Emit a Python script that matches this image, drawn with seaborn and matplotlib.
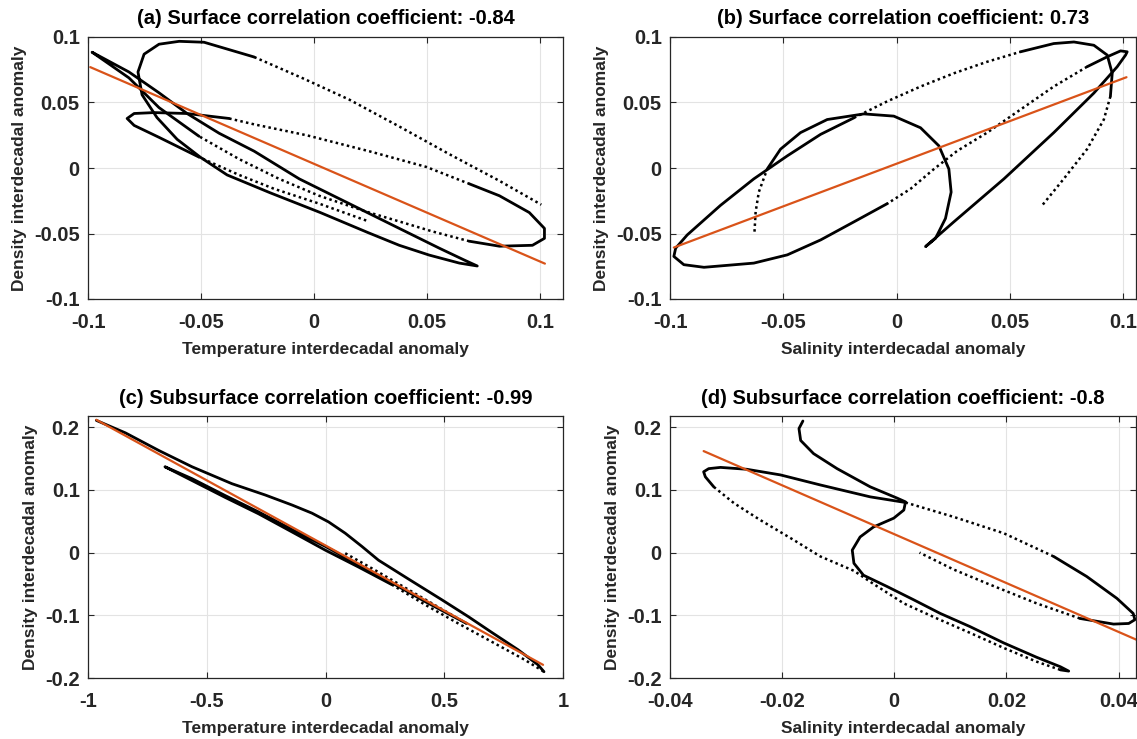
import numpy as np
import pandas as pd
import matplotlib
matplotlib.use("Agg")
import matplotlib.pyplot as plt
import seaborn as sns

# ---------------- data ----------------
# Panel (a): surface, temperature vs density
a_x = [0.0230, 0.0022, -0.0177, -0.0332, -0.0509, -0.0686, -0.0796, -0.0827, -0.0796, -0.0708,
       -0.0562, -0.0376, -0.0265, -0.0031, 0.0243, 0.0496, 0.0686, 0.0819, 0.0951, 0.1018,
       0.1018, 0.0965, 0.0819, 0.0686, 0.0522, 0.0376, 0.0230, 0.0022, -0.0155, -0.0332,
       -0.0509, -0.0686, -0.0819, -0.0907, -0.0982, -0.0819, -0.0686, -0.0562, -0.0420, -0.0265,
       -0.0066, 0.0155, 0.0376, 0.0553, 0.0664, 0.0721, 0.0642, 0.0509, 0.0376, 0.0235,
       0.0027, -0.0195, -0.0385, -0.0504, -0.0606, -0.0695, -0.0761, -0.0779, -0.0752, -0.0686,
       -0.0597, -0.0487, -0.0265, -0.0044, 0.0155, 0.0376, 0.0597, 0.0819, 0.1004]
a_y = [-0.0401, -0.0272, -0.0159, -0.0053, 0.0083, 0.0234, 0.0325, 0.0378, 0.0416, 0.0423,
       0.0416, 0.0378, 0.0333, 0.0249, 0.0128, 0.0008, -0.0121, -0.0212, -0.0340, -0.0461,
       -0.0537, -0.0590, -0.0597, -0.0559, -0.0484, -0.0408, -0.0333, -0.0212, -0.0083, 0.0068,
       0.0242, 0.0461, 0.0688, 0.0794, 0.0884, 0.0733, 0.0574, 0.0416, 0.0265, 0.0128,
       -0.0083, -0.0272, -0.0461, -0.0612, -0.0703, -0.0748, -0.0726, -0.0665, -0.0590, -0.0491,
       -0.0340, -0.0189, -0.0053, 0.0083, 0.0219, 0.0385, 0.0559, 0.0733, 0.0869, 0.0945,
       0.0967, 0.0960, 0.0847, 0.0680, 0.0522, 0.0317, 0.0106, -0.0098, -0.0280]
a_fit_x = [-0.099, 0.102]
a_fit_y = [0.077, -0.073]

# Panel (b): surface, salinity vs density
b_x = [-0.0627, -0.0622, -0.0608, -0.0571, -0.0512, -0.0424, -0.0306, -0.0144, -0.0012, 0.0106,
       0.0187, 0.0231, 0.0241, 0.0216, 0.0172, 0.0128, 0.0253, 0.0474, 0.0694, 0.0871,
       0.0974, 0.1011, 0.1018, 0.0989, 0.0930, 0.0841, 0.0694, 0.0547, 0.0400, 0.0268,
       0.0165, 0.0062, -0.0041, -0.0188, -0.0335, -0.0482, -0.0630, -0.0850, -0.0939, -0.0983,
       -0.0975, -0.0924, -0.0777, -0.0630, -0.0482, -0.0335, -0.0188, -0.0041, 0.0106, 0.0253,
       0.0400, 0.0547, 0.0694, 0.0783, 0.0871, 0.0930, 0.0952, 0.0944, 0.0915, 0.0841,
       0.0738, 0.0643]
b_y = [-0.0486, -0.0335, -0.0184, -0.0008, 0.0144, 0.0270, 0.0370, 0.0413, 0.0396, 0.0307,
       0.0169, -0.0008, -0.0184, -0.0385, -0.0537, -0.0600, -0.0411, -0.0083, 0.0270, 0.0572,
       0.0773, 0.0862, 0.0887, 0.0894, 0.0849, 0.0773, 0.0622, 0.0446, 0.0270, 0.0131,
       -0.0008, -0.0159, -0.0272, -0.0411, -0.0549, -0.0663, -0.0726, -0.0758, -0.0738, -0.0675,
       -0.0612, -0.0511, -0.0285, -0.0083, 0.0093, 0.0257, 0.0383, 0.0509, 0.0622, 0.0723,
       0.0811, 0.0887, 0.0950, 0.0962, 0.0937, 0.0862, 0.0723, 0.0547, 0.0370, 0.0144,
       -0.0083, -0.0285]
b_fit_x = [-0.0983, 0.1015]
b_fit_y = [-0.0607, 0.0693]

# Panel (c): subsurface, temperature vs density
c_x = [0.083, 0.209, 0.349, 0.489, 0.594, 0.419, 0.279, 0.139, -0.001, -0.141,
       -0.282, -0.422, -0.562, -0.676, -0.562, -0.422, -0.282, -0.141, -0.001, 0.139,
       0.279, 0.419, 0.559, 0.699, 0.839, 0.920, 0.895, 0.811, 0.699, 0.601,
       0.489, 0.349, 0.223, 0.153, 0.083, 0.013, -0.057, -0.141, -0.254, -0.394,
       -0.562, -0.702, -0.842, -0.965]
c_y = [-0.001, -0.028, -0.059, -0.090, -0.113, -0.078, -0.048, -0.019, 0.010, 0.037,
       0.065, 0.091, 0.118, 0.137, 0.115, 0.088, 0.062, 0.033, 0.004, -0.023,
       -0.051, -0.083, -0.113, -0.142, -0.171, -0.190, -0.179, -0.155, -0.127, -0.102,
       -0.075, -0.042, -0.012, 0.010, 0.031, 0.049, 0.063, 0.076, 0.092, 0.110,
       0.137, 0.163, 0.191, 0.211]
c_fit_x = [-0.965, 0.916]
c_fit_y = [0.212, -0.179]

# Panel (d): subsurface, salinity vs density
d_x = [-0.0163, -0.0170, -0.0167, -0.0144, -0.0102, -0.0043, 0.0005, 0.0020, 0.0017, -0.0001,
       -0.0037, -0.0061, -0.0075, -0.0072, -0.0055, -0.0013, 0.0034, 0.0082, 0.0135, 0.0195,
       0.0254, 0.0296, 0.0311, 0.0296, 0.0254, 0.0195, 0.0135, 0.0076, 0.0017, -0.0037,
       -0.0072, -0.0132, -0.0179, -0.0239, -0.0286, -0.0322, -0.0337, -0.0340, -0.0331, -0.0310,
       -0.0263, -0.0203, -0.0132, -0.0043, 0.0020, 0.0106, 0.0195, 0.0284, 0.0343, 0.0397,
       0.0426, 0.0429, 0.0418, 0.0391, 0.0331, 0.0254, 0.0165, 0.0106, 0.0045]
d_y = [0.210, 0.198, 0.179, 0.158, 0.134, 0.105, 0.087, 0.081, 0.068, 0.055,
       0.041, 0.025, 0.004, -0.017, -0.036, -0.054, -0.075, -0.097, -0.118, -0.144,
       -0.167, -0.182, -0.189, -0.187, -0.174, -0.152, -0.128, -0.105, -0.081, -0.050,
       -0.029, -0.006, 0.020, 0.052, 0.079, 0.105, 0.121, 0.129, 0.134, 0.136,
       0.133, 0.124, 0.108, 0.089, 0.080, 0.057, 0.031, -0.006, -0.038, -0.073,
       -0.097, -0.107, -0.113, -0.114, -0.105, -0.081, -0.049, -0.027, 0.000]
d_fit_x = [-0.0340, 0.0432]
d_fit_y = [0.162, -0.139]

titles = ["(a) Surface correlation coefficient: -0.84",
          "(b) Surface correlation coefficient: 0.73",
          "(c) Subsurface correlation coefficient: -0.99",
          "(d) Subsurface correlation coefficient: -0.8"]
xlabels = ["Temperature interdecadal anomaly", "Salinity interdecadal anomaly",
           "Temperature interdecadal anomaly", "Salinity interdecadal anomaly"]
ylabel = "Density interdecadal anomaly"

surf_y_ticks = [-0.1, -0.05, 0, 0.05, 0.1]
surf_y_labels = ["-0.1", "-0.05", "0", "0.05", "0.1"]
surf_x_ticks = [-0.1, -0.05, 0, 0.05, 0.1]
surf_x_labels = ["-0.1", "-0.05", "0", "0.05", "0.1"]
sub_y_ticks = [-0.2, -0.1, 0, 0.1, 0.2]
sub_y_labels = ["-0.2", "-0.1", "0", "0.1", "0.2"]
c_x_ticks = [-1, -0.5, 0, 0.5, 1]
c_x_labels = ["-1", "-0.5", "0", "0.5", "1"]
d_x_ticks = [-0.04, -0.02, 0, 0.02, 0.04]
d_x_labels = ["-0.04", "-0.02", "0", "0.02", "0.04"]

# ---------------- style (kept apart from data) ----------------
# index ranges of the trajectories that are drawn as sparse dots
a_sparse = [(0, 4), (11, 16), (23, 30), (62, 68)]
b_sparse = [(0, 3), (25, 32), (46, 51), (57, 61)]
c_sparse = [(0, 4), (20, 25)]
d_sparse = [(23, 35), (44, 47), (54, 58)]

ORANGE = "#D95319"
DARK = "#262626"

sns.set_theme(style="whitegrid")
plt.rcParams["font.family"] = ["Liberation Sans", "DejaVu Sans"]
plt.rcParams["font.weight"] = "bold"


def path_frame(xs, ys, sparse):
    n = len(xs)
    flags = [False] * (n - 1)
    for s, e in sparse:
        for i in range(s, e):
            flags[i] = True
    rows = []
    run = 0
    cur = flags[0]
    rows.append((xs[0], ys[0], run, cur))
    for i in range(n - 1):
        if flags[i] != cur:
            run += 1
            cur = flags[i]
            rows.append((xs[i], ys[i], run, cur))
        rows.append((xs[i + 1], ys[i + 1], run, cur))
    return pd.DataFrame(rows, columns=["x", "y", "run", "sparse"])


def draw(ax, xs, ys, sparse, fx, fy):
    df = path_frame(xs, ys, sparse)
    solid = df[~df["sparse"]]
    dots = df[df["sparse"]]
    sns.lineplot(data=solid, x="x", y="y", units="run", estimator=None, sort=False,
                 color="black", lw=2.0, ax=ax, legend=False)
    if len(dots):
        sns.lineplot(data=dots, x="x", y="y", units="run", estimator=None, sort=False,
                     color="black", lw=1.8, linestyle=(0, (1, 1.3)), ax=ax, legend=False)
    sns.lineplot(x=fx, y=fy, sort=False, color=ORANGE, lw=1.6, ax=ax)


fig = plt.figure(figsize=(11.37, 7.39), dpi=100)
W, H = 1137.0, 739.0
boxes = [(88, 37, 563, 299), (670, 37, 1136, 299), (88, 416, 563, 678), (670, 416, 1136, 678)]
axes = []
for (l, t, r, b) in boxes:
    axes.append(fig.add_axes([l / W, 1 - b / H, (r - l) / W, (b - t) / H]))

draw(axes[0], a_x, a_y, a_sparse, a_fit_x, a_fit_y)
draw(axes[1], b_x, b_y, b_sparse, b_fit_x, b_fit_y)
draw(axes[2], c_x, c_y, c_sparse, c_fit_x, c_fit_y)
draw(axes[3], d_x, d_y, d_sparse, d_fit_x, d_fit_y)

lims = [((-0.1, 0.11), (-0.1, 0.1)), ((-0.1, 0.1057), (-0.1, 0.1)),
        ((-1, 0.99), (-0.2, 0.218)), ((-0.04, 0.0431), (-0.2, 0.218))]
xt = [(surf_x_ticks, surf_x_labels), (surf_x_ticks, surf_x_labels),
      (c_x_ticks, c_x_labels), (d_x_ticks, d_x_labels)]
yt = [(surf_y_ticks, surf_y_labels), (surf_y_ticks, surf_y_labels),
      (sub_y_ticks, sub_y_labels), (sub_y_ticks, sub_y_labels)]

for i, ax in enumerate(axes):
    ax.set_facecolor("white")
    ax.set_xlim(*lims[i][0])
    ax.set_ylim(*lims[i][1])
    ax.set_xticks(xt[i][0])
    ax.set_xticklabels(xt[i][1])
    ax.set_yticks(yt[i][0])
    ax.set_yticklabels(yt[i][1])
    ax.grid(True, color="#e3e3e3", lw=0.8)
    for s in ax.spines.values():
        s.set_visible(True)
        s.set_color(DARK)
        s.set_linewidth(0.9)
    ax.tick_params(axis="both", which="both", direction="in", length=4, width=0.8,
                   color=DARK, labelcolor=DARK, labelsize=14.5, top=True, right=True,
                   bottom=True, left=True)
    ax.tick_params(axis="x", pad=10)
    ax.tick_params(axis="y", pad=6)
    for lab in ax.get_xticklabels() + ax.get_yticklabels():
        lab.set_fontweight("bold")
    ax.set_title(titles[i], fontsize=14.5, fontweight="bold", color="black", pad=9)
    ax.set_xlabel(xlabels[i], fontsize=12.5, fontweight="bold", color=DARK, labelpad=7)
    ax.set_ylabel(ylabel, fontsize=12.5, fontweight="bold", color=DARK, labelpad=5)

fig.savefig("out.png", dpi=100, facecolor="white")
